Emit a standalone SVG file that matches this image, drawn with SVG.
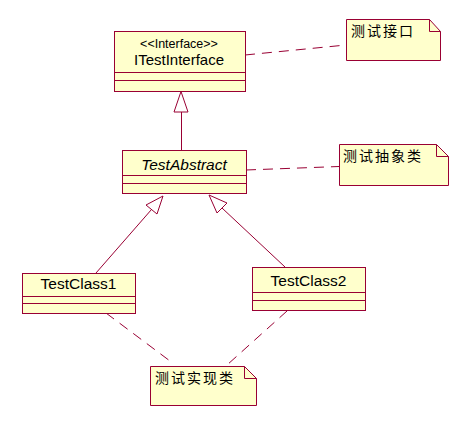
<svg xmlns="http://www.w3.org/2000/svg" width="471" height="428" viewBox="0 0 471 428">
<style>
.box{fill:#FFFFCC;stroke:#990033;stroke-width:1}
.ln{fill:none;stroke:#990033;stroke-width:1}
.dash{fill:none;stroke:#990033;stroke-width:1;stroke-dasharray:10,7}
.tri{fill:#FFFFFF;stroke:#990033;stroke-width:1}
.nm{font-family:"Liberation Sans",Arial,sans-serif;font-size:15.5px;fill:#000;text-anchor:middle}
.st{font-family:"Liberation Sans",Arial,sans-serif;font-size:12.5px;fill:#000;text-anchor:middle}
.cn{font-family:"Noto Sans CJK SC",sans-serif;font-size:14px;letter-spacing:2px;fill:#000}
</style>
<rect width="471" height="428" fill="#FFFFFF"/>
<g id="connectors">
<line class="dash" x1="245" y1="55" x2="346" y2="45"/>
<line class="dash" x1="246" y1="170" x2="339" y2="166.5"/>
<line class="dash" x1="106" y1="313" x2="174" y2="364"/>
<line class="dash" x1="287" y1="311" x2="227" y2="365"/>
<line class="ln" x1="181.5" y1="112" x2="181.5" y2="150"/>
<polygon class="tri" points="181,91.5 174,112 188,112"/>
<line class="ln" x1="151.5" y1="209.5" x2="96" y2="273"/>
<polygon class="tri" points="163,196 146,205 157,214"/>
<line class="ln" x1="222" y1="208" x2="285" y2="267"/>
<polygon class="tri" points="209,195 227,203 217,213"/>
</g>
<g id="ITestInterface">
<rect class="box" x="114.5" y="31.5" width="131" height="60"/>
<line class="ln" x1="114.5" y1="72.5" x2="245.5" y2="72.5"/>
<line class="ln" x1="114.5" y1="80.5" x2="245.5" y2="80.5"/>
<text class="st" x="179" y="48">&lt;&lt;Interface&gt;&gt;</text>
<text class="nm" x="179" y="65" style="font-size:15px">ITestInterface</text>
</g>
<g id="TestAbstract">
<rect class="box" x="122.5" y="150.5" width="124" height="43"/>
<line class="ln" x1="122.5" y1="175.5" x2="246.5" y2="175.5"/>
<line class="ln" x1="122.5" y1="183.5" x2="246.5" y2="183.5"/>
<text class="nm" x="184" y="170" font-style="italic">TestAbstract</text>
</g>
<g id="TestClass1">
<rect class="box" x="22.5" y="273.5" width="113" height="40"/>
<line class="ln" x1="22.5" y1="296.5" x2="135.5" y2="296.5"/>
<line class="ln" x1="22.5" y1="303.5" x2="135.5" y2="303.5"/>
<text class="nm" x="78.5" y="289">TestClass1</text>
</g>
<g id="TestClass2">
<rect class="box" x="252.5" y="267.5" width="113" height="43"/>
<line class="ln" x1="252.5" y1="292.5" x2="365.5" y2="292.5"/>
<line class="ln" x1="252.5" y1="300.5" x2="365.5" y2="300.5"/>
<text class="nm" x="308.5" y="286">TestClass2</text>
</g>
<g id="note1">
<path class="box" d="M346.5,19.5 H429.5 L440.5,31.5 V60.5 H346.5 Z"/>
<path class="ln" d="M429.5,19.5 V31.5 H440.5"/>
<text class="cn" x="351" y="36">测试接口</text>
</g>
<g id="note2">
<path class="box" d="M339.5,144.5 H436.5 L448.5,156.5 V185.5 H339.5 Z"/>
<path class="ln" d="M436.5,144.5 V156.5 H448.5"/>
<text class="cn" x="343" y="161">测试抽象类</text>
</g>
<g id="note3">
<path class="box" d="M150.5,366.5 H244.5 L256.5,378.5 V405.5 H150.5 Z"/>
<path class="ln" d="M244.5,366.5 V378.5 H256.5"/>
<text class="cn" x="155" y="383">测试实现类</text>
</g>
</svg>
